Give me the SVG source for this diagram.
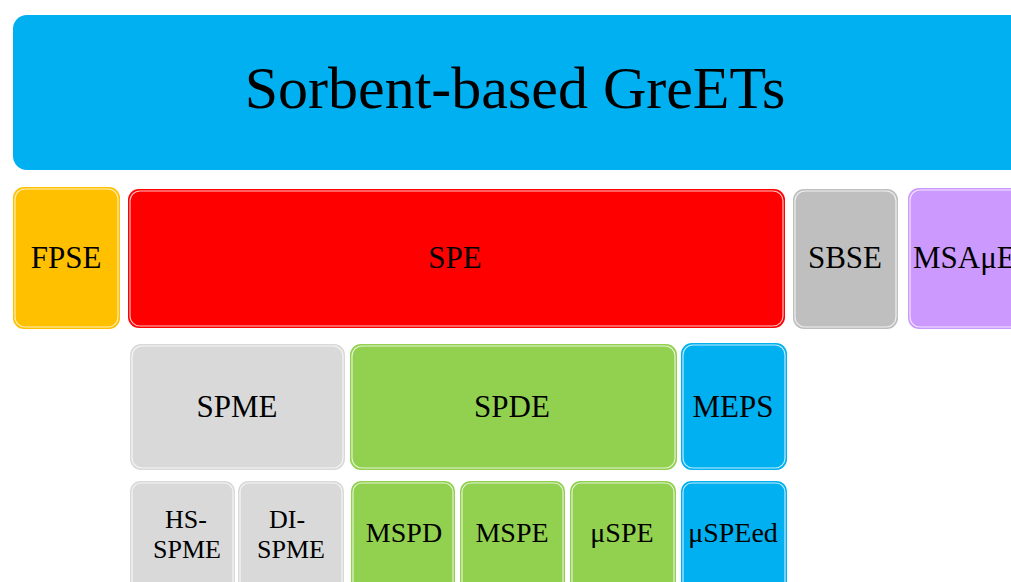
<svg xmlns="http://www.w3.org/2000/svg" width="1011" height="582" viewBox="0 0 1011 582">
  <style>
    text { font-family: "Liberation Serif", "Times New Roman", serif; fill: #000; text-anchor: middle; }
    .t1 { font-size: 60px; }
    .t2 { font-size: 31px; }
    .t3 { font-size: 28px; }
    .t4 { font-size: 26px; }
    .sk { fill: none; stroke: #ffffff; stroke-width: 1.2; stroke-opacity: 0.75; }
    .blue { fill: #00B0F0; }
    .yellow { fill: #FFC000; }
    .red { fill: #FF0000; }
    .gray { fill: #BFBFBF; }
    .purple { fill: #CC99FF; }
    .lgray { fill: #D9D9D9; }
    .green { fill: #92D050; }
  </style>
  <rect width="1011" height="582" fill="#ffffff"/>
  <g id="connectors"/>
  <g id="title">
    <rect class="blue" x="13" y="15" width="1012" height="155" rx="14"/>
    <text class="t1" x="515" y="108">Sorbent-based GreETs</text>
  </g>
  <g id="fpse">
    <rect class="yellow" x="13" y="187" width="107" height="142" rx="11"/>
    <rect class="sk" x="15" y="189" width="103" height="138" rx="10"/>
    <text class="t2" x="66" y="268">FPSE</text>
  </g>
  <g id="spe">
    <rect class="red" x="128" y="189" width="657" height="139" rx="11"/>
    <rect class="sk" x="130" y="191" width="653" height="135" rx="10"/>
    <text class="t2" x="455" y="268">SPE</text>
  </g>
  <g id="sbse">
    <rect class="gray" x="793" y="189" width="105" height="140" rx="11"/>
    <rect class="sk" x="795" y="191" width="101" height="136" rx="10"/>
    <text class="t2" x="845" y="268">SBSE</text>
  </g>
  <g id="msaue">
    <rect class="purple" x="908" y="188" width="120" height="141" rx="11"/>
    <rect class="sk" x="910" y="190" width="116" height="137" rx="10"/>
    <text class="t2" x="913" y="268" style="text-anchor:start">MSAμE</text>
  </g>
  <g id="spme">
    <rect class="lgray" x="130" y="344" width="215" height="126" rx="11"/>
    <rect class="sk" x="132" y="346" width="211" height="122" rx="10"/>
    <text class="t2" x="237" y="417">SPME</text>
  </g>
  <g id="spde">
    <rect class="green" x="350" y="344" width="327" height="126" rx="11"/>
    <rect class="sk" x="352" y="346" width="323" height="122" rx="10"/>
    <text class="t2" x="512" y="417">SPDE</text>
  </g>
  <g id="meps">
    <rect class="blue" x="681" y="343" width="106" height="127" rx="11"/>
    <rect class="sk" x="683" y="345" width="102" height="123" rx="10"/>
    <text class="t2" x="733" y="417">MEPS</text>
  </g>
  <g id="hs-spme">
    <rect class="lgray" x="130" y="481" width="105" height="115" rx="10"/>
    <rect class="sk" x="132" y="483" width="101" height="111" rx="9"/>
    <text class="t4" x="186" y="528">HS-</text>
    <text class="t4" x="187" y="558">SPME</text>
  </g>
  <g id="di-spme">
    <rect class="lgray" x="238" y="481" width="106" height="115" rx="10"/>
    <rect class="sk" x="240" y="483" width="102" height="111" rx="9"/>
    <text class="t4" x="287" y="528">DI-</text>
    <text class="t4" x="291" y="558">SPME</text>
  </g>
  <g id="mspd">
    <rect class="green" x="351" y="481" width="104" height="115" rx="10"/>
    <rect class="sk" x="353" y="483" width="100" height="111" rx="9"/>
    <text class="t3" x="404" y="542">MSPD</text>
  </g>
  <g id="mspe">
    <rect class="green" x="460" y="481" width="105" height="115" rx="10"/>
    <rect class="sk" x="462" y="483" width="101" height="111" rx="9"/>
    <text class="t3" x="512" y="542">MSPE</text>
  </g>
  <g id="uspe">
    <rect class="green" x="570" y="481" width="106" height="115" rx="10"/>
    <rect class="sk" x="572" y="483" width="102" height="111" rx="9"/>
    <text class="t3" x="622" y="542">μSPE</text>
  </g>
  <g id="uspeed">
    <rect class="blue" x="681" y="481" width="106" height="115" rx="10"/>
    <rect class="sk" x="683" y="483" width="102" height="111" rx="9"/>
    <text class="t3" x="733" y="542">μSPEed</text>
  </g>
</svg>
